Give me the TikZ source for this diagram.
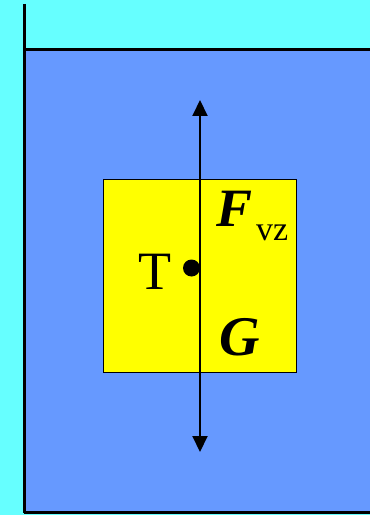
\documentclass[tikz,border=0pt]{standalone}
\usepackage{fontspec}
\setmainfont{Liberation Serif}
\usetikzlibrary{arrows.meta}
\definecolor{cyanbg}{HTML}{66FFFF}
\definecolor{water}{HTML}{6699FF}
\definecolor{bodyyellow}{HTML}{FFFF00}
\tikzset{
  wall/.style={line width=3bp, black},
  edge/.style={line width=2.5bp, black},
  force/.style={line width=2bp, black, -{Triangle[width=15bp,length=16bp]}},
  lbl/.style={inner sep=0pt, anchor=base west}
}
\begin{document}
\begin{tikzpicture}[x=1bp,y=-1bp]
\useasboundingbox (0,0) rectangle (370,515);
\fill[cyanbg] (0,0) rectangle (370,515);
\fill[water] (24,49) rectangle (370,513);
\coordinate (wt) at (24,4);
\coordinate (wb) at (24,513);
\coordinate (sl) at (24,49.5);
\coordinate (sr) at (370,49.5);
\coordinate (bl) at (24,512.5);
\coordinate (br) at (370,512.5);
\draw[edge] (sl) -- (sr);
\draw[edge] (bl) -- (br);
\draw[wall] (wt) -- (wb);
\node[draw=black, line width=1bp, fill=bodyyellow, minimum width=193bp, minimum height=192bp, inner sep=0pt] (box) at (199.5,276) {};
\coordinate (mid) at (200,276);
\coordinate (top) at (200,100);
\coordinate (bot) at (200,452);
\draw[force] (mid) -- (top);
\draw[force] (mid) -- (bot);
\fill[black] (191.5,268) circle (8.5bp) node (dot) {};
\node[inner sep=0pt, anchor=base] (T) at (155,289) {\fontsize{54bp}{58bp}\selectfont T};
\node[lbl] (F) at (216,226) {\fontsize{54bp}{58bp}\selectfont\textbf{\textit{F}}\hspace{4bp}\raisebox{-14bp}{\fontsize{34bp}{36bp}\selectfont vz}};
\node[lbl] (G) at (219,355) {\fontsize{56bp}{60bp}\selectfont\textbf{\textit{G}}};
\end{tikzpicture}
\end{document}
